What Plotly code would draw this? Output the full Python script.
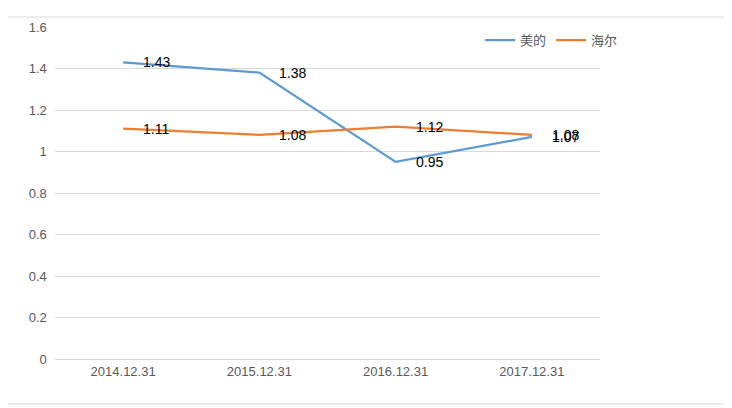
import plotly.graph_objects as go

categories = ["2014.12.31", "2015.12.31", "2016.12.31", "2017.12.31"]
midea = [1.43, 1.38, 0.95, 1.07]
haier = [1.11, 1.08, 1.12, 1.08]

fig = go.Figure()
annots = []
for name, vals, col in [("美的", midea, "#5B9BD5"), ("海尔", haier, "#ED7D31")]:
    fig.add_trace(go.Scatter(x=categories, y=vals, name=name, mode="lines",
                             line=dict(color=col, width=2.25)))
    for c, v in zip(categories, vals):
        annots.append(dict(x=c, y=v, text=f"{v:g}", showarrow=False, xanchor="left",
                           xshift=18, font=dict(color="black", size=14, family="Liberation Sans")))

fig.update_layout(
    width=732, height=408, paper_bgcolor="white", plot_bgcolor="white",
    margin=dict(l=47, r=140, t=13, b=57),
    font=dict(family="Liberation Sans", color="#595959", size=13),
    annotations=annots,
    xaxis=dict(range=[-0.5, 3.5], showgrid=False, showline=True, linecolor="#D9D9D9",
               ticks="", tickfont=dict(size=13)),
    yaxis=dict(range=[0, 1.6], dtick=0.2, showgrid=True, gridcolor="#D9D9D9",
               zeroline=False, tickfont=dict(size=13), ticksuffix="  "),
    legend=dict(orientation="h", x=0.78, xanchor="left", y=0.96, yanchor="middle",
                font=dict(size=13, family="Noto Sans CJK SC", color="#595959")),
    shapes=[dict(type="rect", xref="paper", yref="paper", x0=-0.09, x1=1.245,
                 y0=-0.135, y1=1.03, line=dict(color="#D9D9D9", width=1))],
)
fig.write_html("out.html")
